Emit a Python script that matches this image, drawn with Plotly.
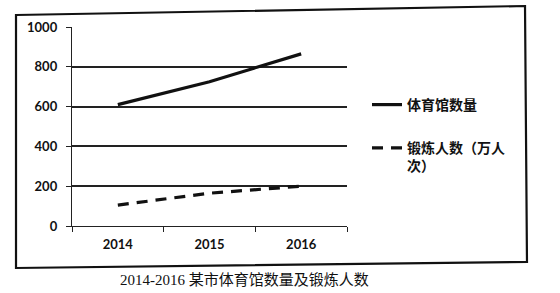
import plotly.graph_objects as go

years = ["2014", "2015", "2016"]
gym_count = [610, 725, 865]
exercise_people = [105, 165, 200]
y_ticks = [0, 200, 400, 600, 800, 1000]
title_text = "2014-2016 某市体育馆数量及锻炼人数"
name_gym = "体育馆数量"
name_ex = "锻炼人数（万人<br>次）"

W, H = 560, 293
L, R, T, B = 72, 347, 27, 226  # plot area pixel bounds


def px(x):
    return (x - L) / (R - L)


def py(y):
    return (B - y) / (B - T)


fig = go.Figure()
fig.add_trace(go.Scatter(
    x=years, y=gym_count, mode="lines", name=name_gym, legendgroup="a",
    line=dict(color="#111111", width=3.2),
))
fig.add_trace(go.Scatter(
    x=years, y=exercise_people, mode="lines", name=name_ex, legendgroup="b",
    line=dict(color="#111111", width=3.2, dash="11px,8px"),
))

tick_font = dict(family="Lato, 'Liberation Sans', sans-serif", size=13, color="#111111", weight="bold")

fig.update_layout(
    width=W, height=H,
    margin=dict(l=L, r=W - R, t=T, b=H - B, pad=0),
    paper_bgcolor="white", plot_bgcolor="white",
    showlegend=True,
    legend=dict(
        x=px(367), xanchor="left", y=py(89), yanchor="top",
        font=dict(family="'Noto Sans CJK SC', sans-serif", size=14, color="#111111", weight="bold"),
        valign="top", tracegroupgap=22, bgcolor="rgba(0,0,0,0)",
        itemwidth=30,
    ),
    xaxis=dict(
        type="category", range=[-0.5, 2.5], showgrid=False,
        showline=True, linecolor="#222222", linewidth=1.4,
        ticks="outside", tickson="boundaries", ticklen=5, tickcolor="#222222",
        tickfont=tick_font, ticklabelstandoff=6,
    ),
    yaxis=dict(
        range=[0, 1000], tickvals=y_ticks, showgrid=True,
        gridcolor="#222222", gridwidth=1.5,
        showline=True, linecolor="#222222", linewidth=1.4,
        ticks="outside", ticklen=5, tickcolor="#222222",
        tickfont=tick_font, ticklabelstandoff=6, zeroline=False,
    ),
)

# outer (slightly skewed) scanned border
pts = [(16, 15), (525, 6), (527, 262), (16, 268)]
path = "M " + " L ".join(f"{px(x):.4f},{py(y):.4f}" for x, y in pts) + " Z"
fig.add_shape(type="path", xref="paper", yref="paper", path=path,
              line=dict(color="#111111", width=2.2), fillcolor="rgba(0,0,0,0)")

fig.add_annotation(
    text=title_text, xref="paper", yref="paper",
    x=px(244), y=py(280), xanchor="center", yanchor="middle",
    showarrow=False,
    font=dict(family="'Liberation Serif', 'Noto Sans CJK SC', serif", size=15, color="#111111"),
)

fig.write_html("out.html")
